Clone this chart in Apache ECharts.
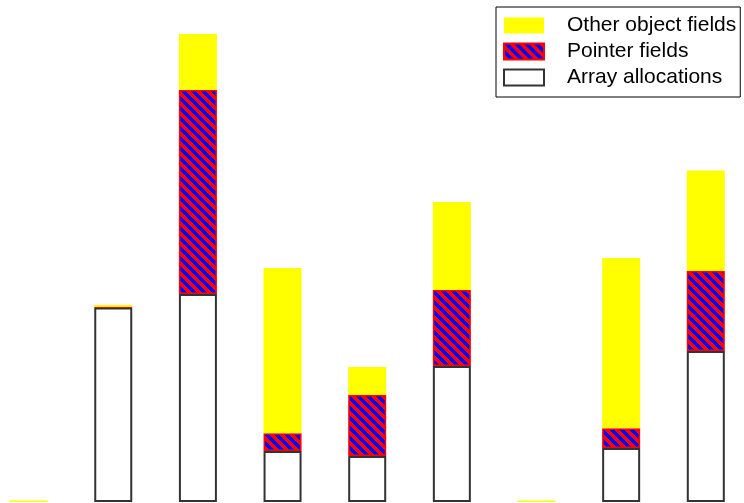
<!DOCTYPE html>
<html>
<head>
<meta charset="utf-8">
<script src="https://cdn.jsdelivr.net/npm/echarts@6/dist/echarts.min.js"></script>
<style>
  html, body { margin: 0; padding: 0; background: #fff; }
  #chart { width: 744px; height: 503px; }
</style>
</head>
<body>
<div id="chart"></div>
<script>
// Nine stacked allocation bars (arbitrary units, no visible axes)
const categories = ['1', '2', '3', '4', '5', '6', '7', '8', '9'];
const arrayAllocations = [0, 194.5, 208, 51, 46, 136, 0, 54, 151];
const pointerFields    = [0, 0.5, 204, 17.7, 61, 76, 0, 19.7, 80];
const otherFields      = [1.5, 2, 56, 165.3, 28, 88, 1.5, 170.3, 100.4];
const seriesNames = ['Array allocations', 'Pointer fields', 'Other object fields'];

// Empty segments are left out so their borders do not draw
const nz = arr => arr.map(v => (v === 0 ? null : v));

// Red background with blue diagonal ("\") hatching
function makeHatch() {
  const size = 10;
  const c = document.createElement('canvas');
  c.width = size; c.height = size;
  const ctx = c.getContext('2d');
  ctx.fillStyle = '#ff0000';
  ctx.fillRect(0, 0, size, size);
  ctx.fillStyle = '#0000ff';
  for (let y = 0; y < size; y++) {
    for (let x = 0; x < size; x++) {
      const d = ((x - y) % size + size) % size;
      if (d < 5) ctx.fillRect(x, y, 1, 1);
    }
  }
  return c;
}

const chart = echarts.init(document.getElementById('chart'), null, { renderer: 'canvas' });

chart.setOption({
  animation: false,
  backgroundColor: '#ffffff',
  grid: { left: 28.6, right: 38.2, top: 0, bottom: 1, containLabel: false },
  xAxis: {
    type: 'category',
    data: categories,
    boundaryGap: false,
    show: false
  },
  yAxis: { type: 'value', min: 0, max: 502, show: false },
  legend: {
    orient: 'vertical',
    left: 496,
    top: 7,
    data: [seriesNames[2], seriesNames[1], seriesNames[0]],
    icon: 'rect',
    itemWidth: 40,
    itemHeight: 16,
    itemGap: 5,
    borderColor: '#000',
    borderWidth: 1,
    padding: [8, 4, 9, 7],
    selectedMode: false,
    textStyle: {
      fontFamily: 'Liberation Sans',
      fontSize: 21,
      color: '#000',
      padding: [0, 0, 0, 18]
    }
  },
  series: [
    {
      name: seriesNames[0],
      type: 'bar',
      stack: 'total',
      barWidth: 38,
      data: nz(arrayAllocations),
      itemStyle: { color: '#ffffff', borderColor: '#333333', borderWidth: 2 }
    },
    {
      name: seriesNames[1],
      type: 'bar',
      stack: 'total',
      barWidth: 38,
      data: nz(pointerFields),
      itemStyle: {
        color: { image: makeHatch(), repeat: 'repeat' },
        borderColor: '#ff0000',
        borderWidth: 1.5
      }
    },
    {
      name: seriesNames[2],
      type: 'bar',
      stack: 'total',
      barWidth: 38,
      data: otherFields,
      itemStyle: { color: '#ffff00', borderWidth: 0 }
    }
  ]
});
</script>
</body>
</html>
